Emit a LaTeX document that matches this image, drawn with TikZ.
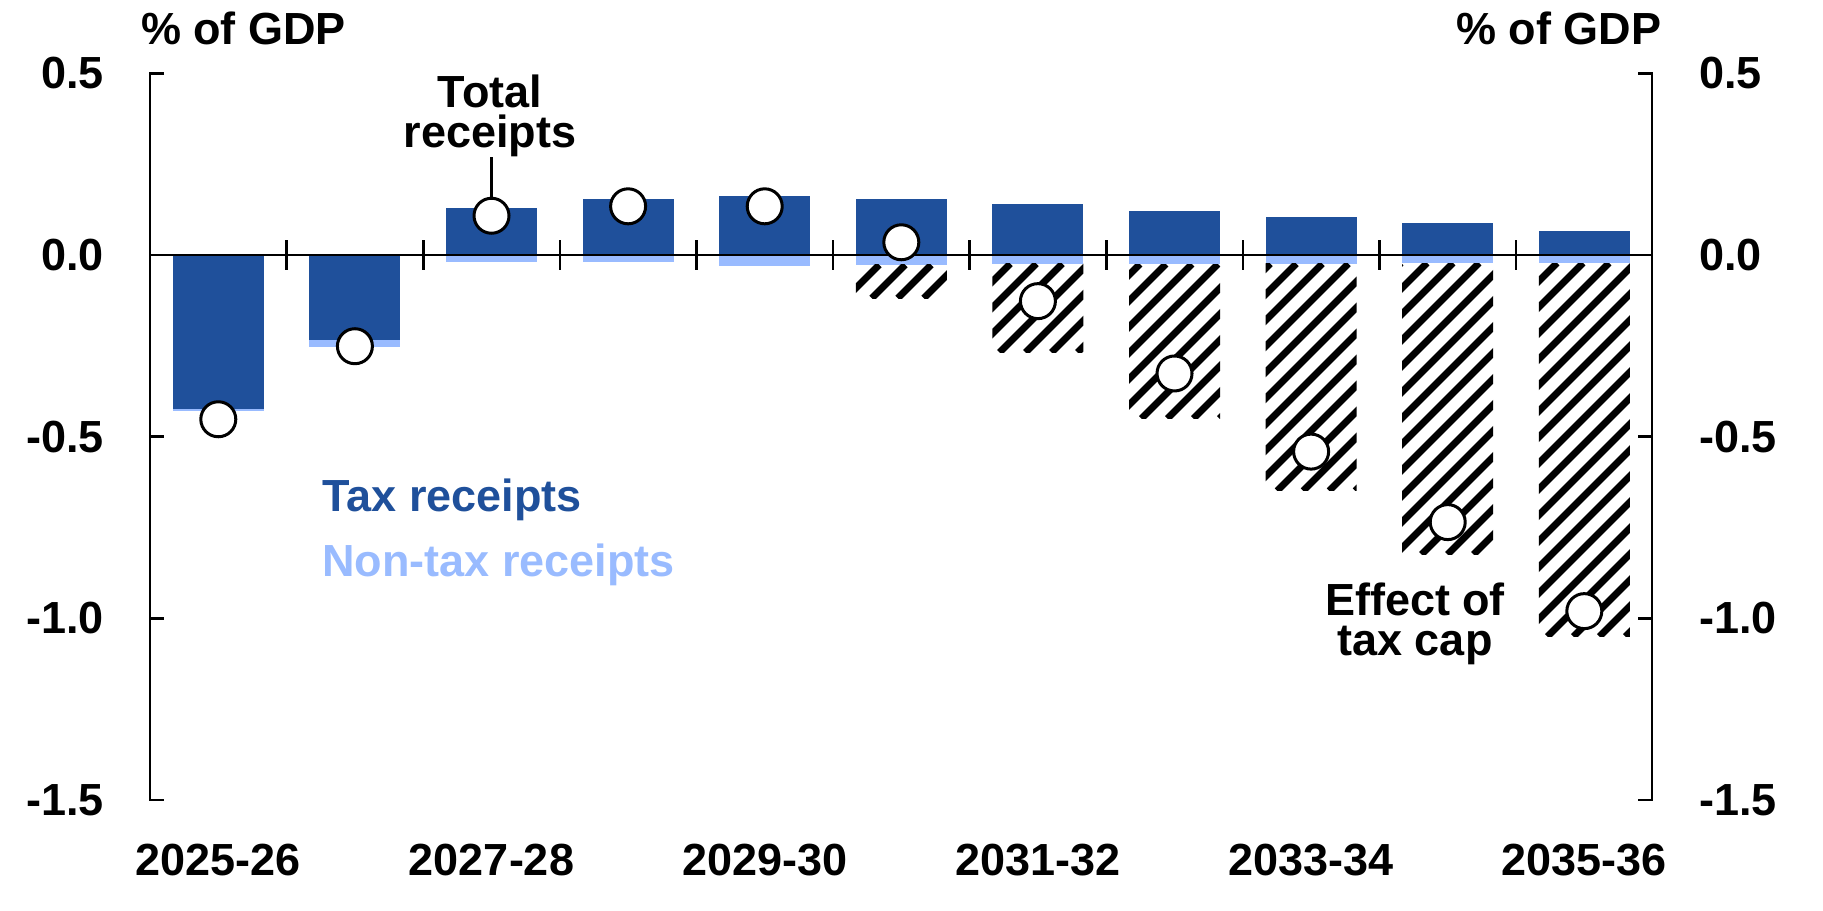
\documentclass[tikz,border=0pt]{standalone}
\usepackage{fontspec}
\setmainfont{Liberation Sans}
\definecolor{taxblue}{RGB}{31,80,155}
\definecolor{nontaxblue}{RGB}{153,187,255}
\newcommand\Yv[1]{(255-363.4*(#1))}
\begin{document}
\begin{tikzpicture}[x=0.5pt,y=-0.5pt,
  lab/.style={font=\bfseries\fontsize{22.5}{20}\selectfont, inner sep=0pt},
  ax/.style={line width=1.3pt, black},
  dot/.style={circle, draw=black, fill=white, line width=1.5pt, minimum size=17.5pt, inner sep=0pt},
  hatchline/.style={line width=3.4pt, black},
  taxbar/.style={fill=taxblue},
  nontaxbar/.style={fill=nontaxblue}]
\useasboundingbox (0,0) rectangle (1823,910);

% bars: index / tax / non-tax end / hatch end / total dot
\foreach \i/\t/\n/\h/\d in {
  0/-0.425/-0.429/-0.429/-0.452,
  1/-0.234/-0.252/-0.252/-0.251,
  2/0.128/-0.018/-0.018/0.108,
  3/0.153/-0.018/-0.018/0.134,
  4/0.162/-0.030/-0.030/0.134,
  5/0.153/-0.027/-0.119/0.035,
  6/0.139/-0.024/-0.268/-0.127,
  7/0.121/-0.025/-0.450/-0.326,
  8/0.104/-0.024/-0.649/-0.541,
  9/0.087/-0.022/-0.824/-0.735,
  10/0.065/-0.022/-1.050/-0.980}{
  \pgfmathsetmacro\cx{150+136.6*(\i+0.5)}
  \pgfmathsetmacro\xa{\cx-45.5}
  \pgfmathsetmacro\xb{\cx+45.5}
  \pgfmathsetmacro\s{min(\t,0)}
  \pgfmathsetmacro\ya{255-363.4*(\n)}
  \pgfmathsetmacro\yb{255-363.4*(\h)}
  \fill[taxbar] (\xa,255) rectangle (\xb,{255-363.4*(\t)});
  \fill[nontaxbar] (\xa,{255-363.4*(\s)}) rectangle (\xb,\ya);
  \begin{scope}
    \clip (\xa,\ya) rectangle (\xb,\yb);
    \foreach \c in {390,416,...,2320}{
      \draw[hatchline] ({\c-\ya},\ya) -- ({\c-\yb},\yb);
    }
  \end{scope}
}

% zero line and category ticks
\draw[ax] (150,255) -- (1652,255);
\foreach \k in {1,...,10}{
  \draw[ax] ({150+136.6*\k},240) -- ({150+136.6*\k},270);
}

% left axis
\draw[ax] (164,{\Yv{0.5}}) -- (150,{\Yv{0.5}}) -- (150,{\Yv{-1.5}}) -- (164,{\Yv{-1.5}});
\foreach \v in {0,-0.5,-1.0}{
  \draw[ax] (150,{\Yv{\v}}) -- (164,{\Yv{\v}});
}
% right axis
\draw[ax] (1638,{\Yv{0.5}}) -- (1652,{\Yv{0.5}}) -- (1652,{\Yv{-1.5}}) -- (1638,{\Yv{-1.5}});
\foreach \v in {0,-0.5,-1.0}{
  \draw[ax] (1652,{\Yv{\v}}) -- (1638,{\Yv{\v}});
}

% axis labels
\foreach \v/\txt/\nm in {0.5/0.5/a,0/0.0/b,-0.5/-0.5/c,-1.0/-1.0/d,-1.5/-1.5/e}{
  \node[lab, anchor=east] (yl\nm) at (104,{\Yv{\v}}) {\txt};
  \node[lab, anchor=west] (yr\nm) at (1699,{\Yv{\v}}) {\txt};
}
\node[lab, anchor=base west] (unitl) at (140.6,44.3) {\% of GDP};
\node[lab, anchor=base east] (unitr) at (1661.5,44.3) {\% of GDP};

\foreach \i/\txt in {0/2025-26,2/2027-28,4/2029-30,6/2031-32,8/2033-34,10/2035-36}{
  \node[lab, anchor=base] (xl\i) at ({150+136.6*(\i+0.5)},875) {\txt};
}

% legend
\node[lab, anchor=base west, text=taxblue] (legtax) at (322,511.7) {Tax receipts};
\node[lab, anchor=base west, text=nontaxblue] (legnon) at (322,576.7) {Non-tax receipts};

% total dots
\foreach \i/\d in {0/-0.452,1/-0.251,2/0.108,3/0.134,4/0.134,5/0.035,6/-0.127,7/-0.326,8/-0.541,9/-0.735,10/-0.980}{
  \node[dot] (d\i) at ({150+136.6*(\i+0.5)},{\Yv{\d}}) {};
}

% annotations
\node[lab, align=center, anchor=south] (totlab) at (490,157) {Total\\receipts};
\draw[line width=1.5pt] (d2.north) -- (d2.north |- totlab.south);
\node[lab, align=center, anchor=north] (caplab) at (1415,582) {Effect of\\tax cap};
\end{tikzpicture}
\end{document}
